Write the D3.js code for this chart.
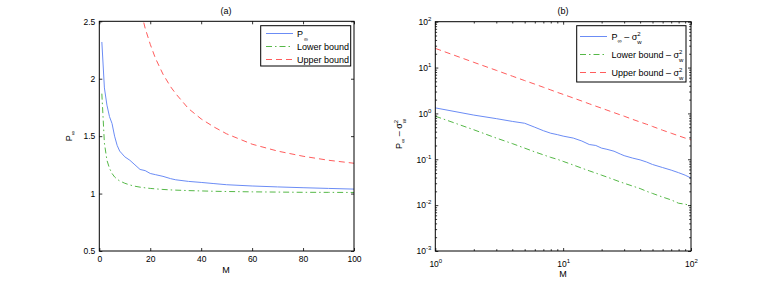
<!DOCTYPE html>
<html>
<head>
<meta charset="utf-8">
<script src="https://cdn.jsdelivr.net/npm/d3@7"></script>
<style>
body { margin: 0; background: #fff; }
text { font-family: "Liberation Sans", Arial, sans-serif; fill: #000; }
</style>
</head>
<body>
<svg id="chart" width="763" height="283"></svg>
<script>
// values
const M      = [1, 2, 3, 4, 5, 6, 7, 8, 9, 10, 12, 14, 16, 18, 20, 22, 25, 28, 30, 35, 40, 45, 50, 60, 70, 80, 90, 100];
const pInf   = [2.32, 1.92, 1.77, 1.67, 1.61, 1.50, 1.42, 1.37, 1.345, 1.32, 1.29, 1.25, 1.21, 1.20, 1.175, 1.165, 1.15, 1.13, 1.12, 1.106, 1.097, 1.087, 1.077, 1.066, 1.058, 1.051, 1.045, 1.039];
const lower  = [1.87, 1.44, 1.29, 1.22, 1.175, 1.145, 1.125, 1.11, 1.10, 1.09, 1.075, 1.064, 1.056, 1.05, 1.045, 1.041, 1.036, 1.032, 1.030, 1.026, 1.023, 1.020, 1.018, 1.015, 1.013, 1.011, 1.0105, 1.0097];
const upper  = [27.2, 14.0, 9.7, 7.5, 6.2, 5.35, 4.72, 4.25, 3.88, 3.6, 3.17, 2.86, 2.62, 2.44, 2.3, 2.18, 2.04, 1.93, 1.87, 1.74, 1.65, 1.58, 1.52, 1.43, 1.37, 1.325, 1.29, 1.264];
const sigmaW2 = 1;

const xTicksA = [0, 20, 40, 60, 80, 100];
const yTicksA = [0.5, 1, 1.5, 2, 2.5];
const xDecades = [1, 10, 100];
const yDecades = [1e-3, 1e-2, 1e-1, 1, 10, 100];

const series = [
  { key: "p",  vals: pInf,  color: "#6b8cf5", dash: null },
  { key: "lo", vals: lower, color: "#55b847", dash: "6,3,1.5,3" },
  { key: "up", vals: upper, color: "#ff5c5c", dash: "6,4" }
];

const svg = d3.select("#chart");
svg.append("rect").attr("width", 763).attr("height", 283).attr("fill", "#fff");

const FS = 8.5;   // tick labels
const LS = 9;     // labels, legend

// draws box, inward ticks on all four sides; returns [bottomAxis, leftAxis]
function frameAxes(g, x, y, xt, yt, fmt, xMinor, yMinor) {
  const [x0, x1] = x.range(), [y0, y1] = y.range();
  const bot = g.append("g").attr("transform", `translate(0,${y0})`)
    .call(d3.axisBottom(x).tickValues(xt).tickSize(-3).tickPadding(5).tickFormat(fmt));
  const top = g.append("g").attr("transform", `translate(0,${y1})`)
    .call(d3.axisTop(x).tickValues(xt).tickSize(-3));
  const left = g.append("g").attr("transform", `translate(${x0},0)`)
    .call(d3.axisLeft(y).tickValues(yt).tickSize(-3).tickPadding(4).tickFormat(fmt));
  const right = g.append("g").attr("transform", `translate(${x1},0)`)
    .call(d3.axisRight(y).tickValues(yt).tickSize(-3));
  const extra = [top, right];
  if (xMinor) {
    extra.push(g.append("g").attr("transform", `translate(0,${y0})`)
      .call(d3.axisBottom(x).tickValues(xMinor).tickSize(-1.8)));
    extra.push(g.append("g").attr("transform", `translate(0,${y1})`)
      .call(d3.axisTop(x).tickValues(xMinor).tickSize(-1.8)));
  }
  if (yMinor) {
    extra.push(g.append("g").attr("transform", `translate(${x0},0)`)
      .call(d3.axisLeft(y).tickValues(yMinor).tickSize(-1.8)));
    extra.push(g.append("g").attr("transform", `translate(${x1},0)`)
      .call(d3.axisRight(y).tickValues(yMinor).tickSize(-1.8)));
  }
  extra.forEach(a => a.selectAll("text").remove());
  g.selectAll(".domain").remove();
  g.selectAll(".tick line").attr("stroke", "#000").attr("stroke-width", 0.8);
  g.selectAll(".tick text").attr("font-size", FS).attr("font-family", "Liberation Sans, Arial, sans-serif").attr("fill", "#000");
  g.append("rect").attr("x", x0).attr("y", y1).attr("width", x1 - x0).attr("height", y0 - y1)
    .attr("fill", "none").attr("stroke", "#000").attr("stroke-width", 1);
  return [bot, left];
}

// ---------- panel (a) ----------
const xa = d3.scaleLinear().domain([0, 100]).range([99.3, 354]);
const ya = d3.scaleLinear().domain([0.5, 2.5]).range([251, 21.3]);

const ga = svg.append("g");
ga.append("clipPath").attr("id", "clipA").append("rect")
  .attr("x", 99.3).attr("y", 21.3).attr("width", 354 - 99.3).attr("height", 251 - 21.3);

series.forEach(s => {
  const line = d3.line().x((d, i) => xa(M[i])).y(d => ya(d));
  ga.append("path").datum(s.vals)
    .attr("clip-path", "url(#clipA)")
    .attr("fill", "none").attr("stroke", s.color).attr("stroke-width", 1)
    .attr("stroke-dasharray", s.dash)
    .attr("d", line);
});

frameAxes(ga, xa, ya, xTicksA, yTicksA, d => String(d));

ga.append("text").attr("x", 226).attr("y", 14).attr("text-anchor", "middle").attr("font-size", LS).text("(a)");
ga.append("text").attr("x", 226).attr("y", 273).attr("text-anchor", "middle").attr("font-size", LS).text("M");
const yla = ga.append("text").attr("transform", "translate(72,136) rotate(-90)")
  .attr("text-anchor", "middle").attr("font-size", LS);
yla.append("tspan").text("P");
yla.append("tspan").attr("font-size", 6).attr("dy", 3).text("\u221e");

// legend (a)
const la = ga.append("g");
la.append("rect").attr("x", 260.7).attr("y", 25.7).attr("width", 90).attr("height", 40.3)
  .attr("fill", "#fff").attr("stroke", "#000").attr("stroke-width", 1);
const legA = [["P", "\u221e"], ["Lower bound"], ["Upper bound"]];
legA.forEach((t, i) => {
  const yy = Math.round(33 + i * 12.8) + 0.5;
  la.append("line").attr("x1", 266).attr("x2", 293).attr("y1", yy).attr("y2", yy)
    .attr("stroke", series[i].color).attr("stroke-width", 1).attr("stroke-dasharray", series[i].dash);
  const tx = la.append("text").attr("x", 297).attr("y", yy + 3).attr("font-size", LS);
  tx.append("tspan").text(t[0]);
  if (t[1]) tx.append("tspan").attr("font-size", 5.5).attr("dy", 4).attr("dx", 1).text(t[1]);
});

// ---------- panel (b) ----------
const xb = d3.scaleLog().domain([1, 100]).range([435.3, 691]);
const yb = d3.scaleLog().domain([1e-3, 100]).range([251, 21.7]);

const gb = svg.append("g");
series.forEach(s => {
  const line = d3.line().x((d, i) => xb(M[i])).y(d => yb(d - sigmaW2));
  gb.append("path").datum(s.vals)
    .attr("fill", "none").attr("stroke", s.color).attr("stroke-width", 1)
    .attr("stroke-dasharray", s.dash)
    .attr("d", line);
});

const xMinorB = [];
[1, 10].forEach(d => { for (let k = 2; k <= 9; k++) xMinorB.push(d * k); });
const yMinorB = [];
yDecades.slice(0, -1).forEach(d => { for (let k = 2; k <= 9; k++) yMinorB.push(d * k); });

const [botB, leftB] = frameAxes(gb, xb, yb, xDecades, yDecades, d => String(d), xMinorB, yMinorB);

function powLabel(sel) {
  sel.each(function (d) {
    const e = Math.round(Math.log10(d));
    const t = d3.select(this).text("");
    t.append("tspan").text("10");
    t.append("tspan").attr("font-size", 6).attr("dy", -4).text(e < 0 ? "-" + (-e) : e);
  });
}
powLabel(botB.selectAll(".tick text").attr("dy", 10.5));
powLabel(leftB.selectAll(".tick text"));

gb.append("text").attr("x", 563).attr("y", 277).attr("text-anchor", "middle").attr("font-size", LS).text("M");
gb.append("text").attr("x", 563).attr("y", 14).attr("text-anchor", "middle").attr("font-size", LS).text("(b)");

function pMinusSigma(t, small) {
  t.append("tspan").text("P");
  t.append("tspan").attr("font-size", small).attr("dy", 3).text("\u221e");
  t.append("tspan").attr("dy", -3).text(" \u2013 \u03c3");
  t.append("tspan").attr("font-size", small).attr("dy", -4).text("2");
  t.append("tspan").attr("font-size", small).attr("dy", 8).attr("dx", -3.4).text("w");
}
const ylb = gb.append("text").attr("transform", "translate(402,134) rotate(-90)")
  .attr("text-anchor", "middle").attr("font-size", LS);
pMinusSigma(ylb, 6);

// legend (b)
const lb = gb.append("g");
lb.append("rect").attr("x", 576.7).attr("y", 25.7).attr("width", 109.3).attr("height", 56.3)
  .attr("fill", "#fff").attr("stroke", "#000").attr("stroke-width", 1);
const legB = ["", "Lower bound", "Upper bound"];
legB.forEach((t, i) => {
  const yy = Math.round(36 + i * 17.8) + 0.5;
  lb.append("line").attr("x1", 580).attr("x2", 607).attr("y1", yy).attr("y2", yy)
    .attr("stroke", series[i].color).attr("stroke-width", 1).attr("stroke-dasharray", series[i].dash);
  const tx = lb.append("text").attr("x", 611.5).attr("y", yy + 3).attr("font-size", LS);
  if (i === 0) {
    pMinusSigma(tx, 6);
  } else {
    tx.append("tspan").text(t + " \u2013 \u03c3");
    tx.append("tspan").attr("font-size", 6).attr("dy", -4).text("2");
    tx.append("tspan").attr("font-size", 6).attr("dy", 8).attr("dx", -3.4).text("w");
  }
});
</script>
</body>
</html>
